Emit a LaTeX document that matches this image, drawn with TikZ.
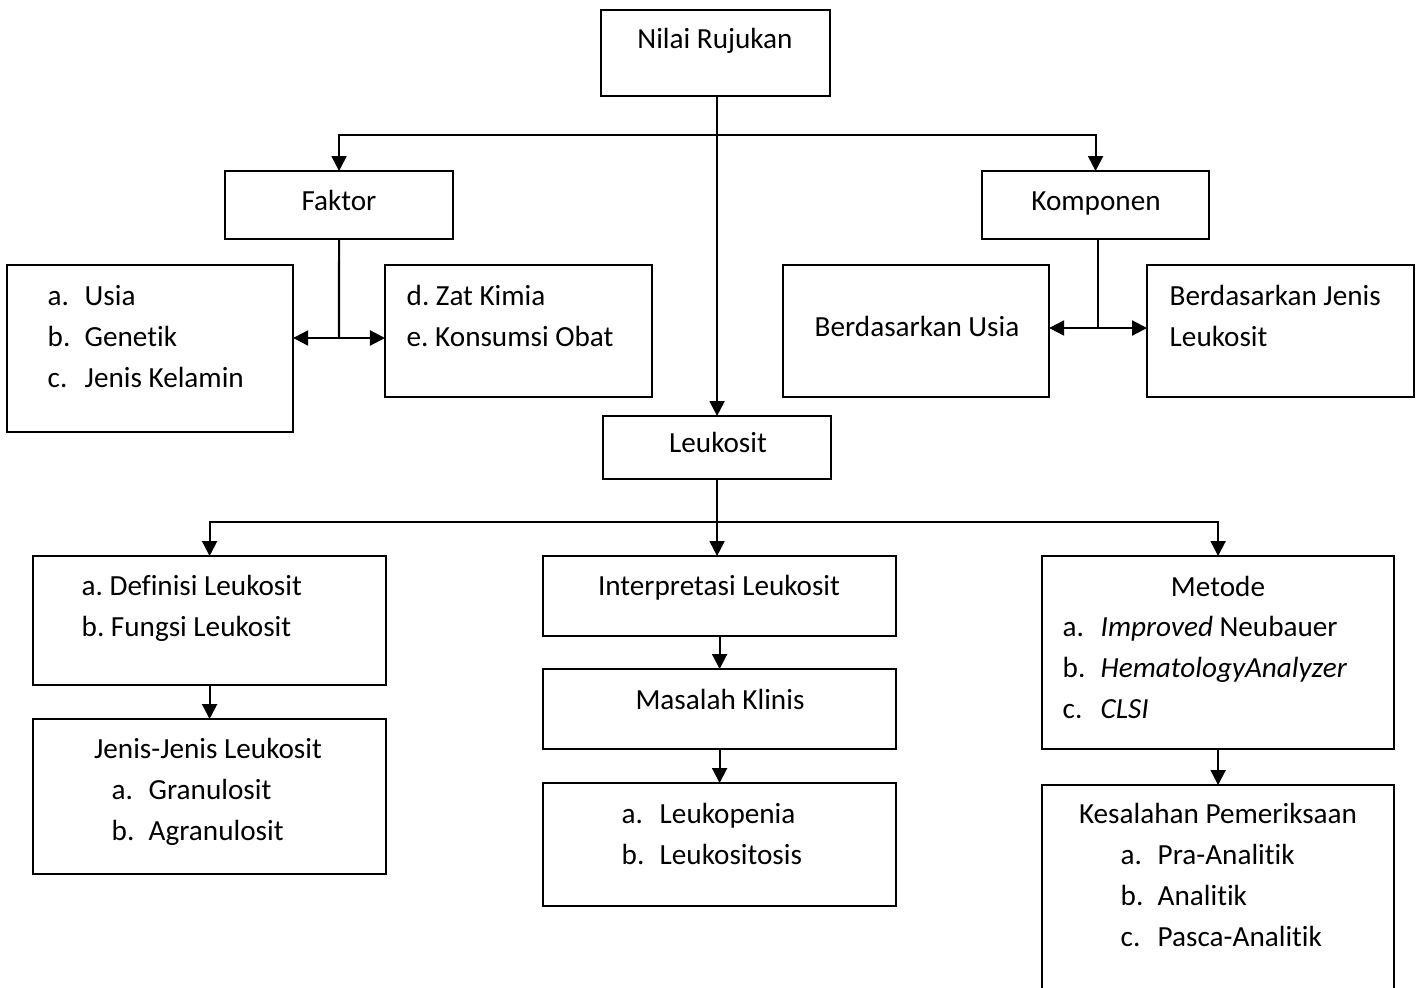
\documentclass[tikz,border=0pt]{standalone}
\usepackage{fontspec}
\setmainfont{Carlito}[Ligatures=NoCommon]
\usetikzlibrary{arrows.meta,positioning,calc}
\frenchspacing

\begin{document}
\begin{tikzpicture}[x=0.01cm, y=-0.01cm,
  kotak/.style={draw, line width=0.6pt, anchor=north west, inner sep=0pt, outer sep=0pt},
  teks/.style={inner sep=0pt, font=\fontsize{8.3}{11.7}\selectfont},
  garis/.style={line width=0.6pt},
  panah/.style={garis, -{Triangle[length=1.5mm, width=1.5mm]}}]
  % Canvas
  \useasboundingbox (0,0) rectangle (1418,987);
  \clip (0,0) rectangle (1418,987);

  % Boxes
  \node[kotak, minimum width=2.29cm, minimum height=0.86cm] (nilai) at (601,10) {};
  \node[kotak, minimum width=2.28cm, minimum height=0.68cm] (faktor) at (225,171) {};
  \node[kotak, minimum width=2.27cm, minimum height=0.68cm] (komponen) at (982,171) {};
  \node[kotak, minimum width=2.86cm, minimum height=1.67cm] (usia) at (7,265) {};
  \node[kotak, minimum width=2.67cm, minimum height=1.32cm] (zat) at (385,265) {};
  \node[kotak, minimum width=2.66cm, minimum height=1.32cm] (busia) at (783,265) {};
  \node[kotak, minimum width=2.67cm, minimum height=1.32cm] (bjenis) at (1147,265) {};
  \node[kotak, minimum width=2.28cm, minimum height=0.63cm] (leukosit) at (603,416) {};
  \node[kotak, minimum width=3.53cm, minimum height=1.29cm] (definisi) at (33,556) {};
  \node[kotak, minimum width=3.53cm, minimum height=1.55cm] (jenis) at (33,719) {};
  \node[kotak, minimum width=3.53cm, minimum height=0.80cm] (interp) at (543,556) {};
  \node[kotak, minimum width=3.53cm, minimum height=0.80cm] (masalah) at (543,669) {};
  \node[kotak, minimum width=3.53cm, minimum height=1.23cm] (leukopenia) at (543,783) {};
  \node[kotak, minimum width=3.52cm, minimum height=1.93cm] (metode) at (1042,556) {};
  \node[kotak, minimum width=3.52cm, minimum height=2.60cm] (kesalahan) at (1042,785) {};

  % Titles
  \node[teks, anchor=base] (nilai-t) at (715,48) {Nilai Rujukan};
  \node[teks, anchor=base] (faktor-t) at (339,210) {Faktor};
  \node[teks, anchor=base] (komponen-t) at (1096,210) {Komponen};
  \node[teks, anchor=base] (busia-t) at (917,336) {Berdasarkan Usia};
  \node[teks, anchor=base] (leukosit-t) at (718,452) {Leukosit};
  \node[teks, anchor=base] (interp-t) at (719,595) {Interpretasi Leukosit};
  \node[teks, anchor=base] (masalah-t) at (720,709) {Masalah Klinis};
  \node[teks, anchor=base] (metode-t) at (1218,596) {Metode};
  \node[teks, anchor=base] (jenis-t) at (208,758) {Jenis-Jenis Leukosit};
  \node[teks, anchor=base] (kesalahan-t) at (1218,823) {Kesalahan Pemeriksaan};

  % Lists
  \foreach \h/\t [count=\i from 0] in {a./Usia, b./Genetik, c./Jenis Kelamin}
    \node[teks, anchor=base west] (usia\i) at (47,305+41*\i) {\makebox[0.37cm][l]{\h}\t};
  \foreach \t [count=\i from 0] in {d. Zat Kimia, e. Konsumsi Obat}
    \node[teks, anchor=base west] (zat\i) at (406,305+41*\i) {\t};
  \foreach \t [count=\i from 0] in {Berdasarkan Jenis, Leukosit}
    \node[teks, anchor=base west] (bjenis\i) at (1169,305+41*\i) {\t};
  \foreach \t [count=\i from 0] in {a. Definisi Leukosit, b. Fungsi Leukosit}
    \node[teks, anchor=base west] (definisi\i) at (81,595+41*\i) {\t};
  \foreach \h/\t [count=\i from 0] in {a./Granulosit, b./Agranulosit}
    \node[teks, anchor=base west] (jenis\i) at (111,799+41*\i) {\makebox[0.37cm][l]{\h}\t};
  \foreach \h/\t [count=\i from 0] in {a./Leukopenia, b./Leukositosis}
    \node[teks, anchor=base west] (leukopenia\i) at (621,823+41*\i) {\makebox[0.38cm][l]{\h}\t};
  \foreach \h/\t [count=\i from 0] in {a./\textit{Improved} Neubauer, b./\textit{HematologyAnalyzer}, c./\textit{CLSI}}
    \node[teks, anchor=base west] (metode\i) at (1062,636+41*\i) {\makebox[0.38cm][l]{\h}\t};
  \foreach \h/\t [count=\i from 0] in {a./Pra-Analitik, b./Analitik, c./Pasca-Analitik}
    \node[teks, anchor=base west] (kesalahan\i) at (1120,864+41*\i) {\makebox[0.37cm][l]{\h}\t};

  % Branch points
  \coordinate (cabangA) at (717,135);
  \coordinate (simpulA) at (339,338);
  \coordinate (simpulB) at (1098,328);
  \coordinate (cabangB) at (717,522);

  % Connectors
  \draw[panah] (leukosit.north |- nilai.south) -- (leukosit.north);
  \draw[panah] (cabangA) -| (faktor.north);
  \draw[panah] (cabangA) -| (komponen.north);
  \draw[garis] (faktor.south) -- (simpulA);
  \draw[panah] (simpulA) -- (usia.east |- simpulA);
  \draw[panah] (simpulA) -- (zat.west |- simpulA);
  \draw[garis] (komponen.south -| simpulB) -- (simpulB);
  \draw[panah] (simpulB) -- (busia.east |- simpulB);
  \draw[panah] (simpulB) -- (bjenis.west |- simpulB);
  \draw[panah] (leukosit.south) -- (leukosit.south |- interp.north);
  \draw[panah] (cabangB) -| (definisi.north);
  \draw[panah] (cabangB) -| (metode.north);
  \draw[panah] (definisi.south) -- (jenis.north);
  \draw[panah] (interp.south) -- (masalah.north);
  \draw[panah] (masalah.south) -- (leukopenia.north);
  \draw[panah] (metode.south) -- (kesalahan.north);
\end{tikzpicture}
\end{document}
